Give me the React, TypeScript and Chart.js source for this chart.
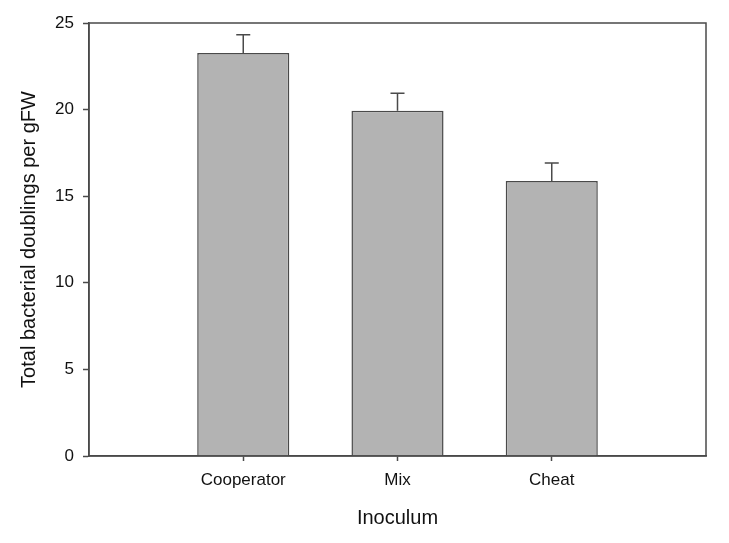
import React, { useEffect, useRef } from "react";
import { Chart, registerables } from "chart.js";

Chart.register(...registerables);

const categories = ["Cooperator", "Mix", "Cheat"];
const meanValues = [23.27, 19.93, 15.88];
const errorValues = [1.05, 1.02, 1.03];
const yTicks = [0, 5, 10, 15, 20, 25];

const FONT = "'Liberation Sans', Arial, Helvetica, sans-serif";
const AXIS_COLOR = "#4a4a4a";
const TEXT_COLOR = "#111";

const framePlugin = {
  id: "frame",
  afterDatasetsDraw(chart: any) {
    const { ctx, chartArea, scales } = chart;
    const xs = scales.x;
    const ys = scales.y;
    ctx.save();
    ctx.strokeStyle = "#4a4a4a";
    ctx.lineWidth = 1.5;
    categories.forEach((_, i) => {
      const x = xs.getPixelForValue(i + 1);
      const yTop = ys.getPixelForValue(meanValues[i]);
      const yErr = ys.getPixelForValue(meanValues[i] + errorValues[i]);
      ctx.beginPath();
      ctx.moveTo(x, yTop);
      ctx.lineTo(x, yErr);
      ctx.moveTo(x - 7, yErr);
      ctx.lineTo(x + 7, yErr);
      ctx.stroke();
    });
    ctx.strokeStyle = AXIS_COLOR;
    ctx.lineWidth = 1.5;
    ctx.strokeRect(
      chartArea.left,
      chartArea.top,
      chartArea.right - chartArea.left,
      chartArea.bottom - chartArea.top
    );
    ctx.restore();
  },
};

export default function App() {
  const ref = useRef<HTMLCanvasElement | null>(null);

  useEffect(() => {
    if (!ref.current) return;
    const chart = new Chart(ref.current, {
      type: "bar",
      data: {
        datasets: [
          {
            data: categories.map((_, i) => ({ x: i + 1, y: meanValues[i] })),
            backgroundColor: "#b3b3b3",
            borderColor: "#4a4a4a",
            borderWidth: 1.5,
            barPercentage: 0.597,
            categoryPercentage: 1,
          },
        ],
      },
      options: {
        responsive: false,
        animation: false,
        devicePixelRatio: 1,
        layout: { padding: { top: 23, right: 23, left: 0, bottom: 0 } },
        plugins: {
          legend: { display: false },
          tooltip: { enabled: false },
        },
        scales: {
          x: {
            type: "linear",
            min: 0,
            max: 4,
            offset: false,
            afterFit: (s: any) => {
              s.height = 87;
            },
            afterBuildTicks: (s: any) => {
              s.ticks = [0, 1, 2, 3, 4].map((v) => ({ value: v }));
            },
            ticks: {
              callback: (v: any) =>
                v >= 1 && v <= categories.length ? categories[v - 1] : "",
              font: { family: FONT, size: 17 },
              color: TEXT_COLOR,
              padding: 9,
              maxRotation: 0,
              autoSkip: false,
            },
            grid: {
              offset: false,
              drawOnChartArea: false,
              drawTicks: true,
              tickLength: 5,
              tickColor: (c: any) =>
                c.tick && c.tick.value >= 1 && c.tick.value <= categories.length
                  ? AXIS_COLOR
                  : "rgba(0,0,0,0)",
              tickWidth: 1.5,
            },
            border: { display: true, color: AXIS_COLOR, width: 1.5 },
            title: {
              display: true,
              text: "Inoculum",
              font: { family: FONT, size: 20 },
              color: TEXT_COLOR,
              padding: { top: 0, bottom: 13 },
            },
          },
          y: {
            min: 0,
            max: 25,
            afterFit: (s: any) => {
              s.width = 89;
            },
            afterBuildTicks: (s: any) => {
              s.ticks = yTicks.map((v) => ({ value: v }));
            },
            ticks: {
              font: { family: FONT, size: 17 },
              color: TEXT_COLOR,
              padding: 9,
            },
            grid: {
              drawOnChartArea: false,
              drawTicks: true,
              tickLength: 6,
              tickColor: AXIS_COLOR,
              tickWidth: 1.5,
            },
            border: { display: true, color: AXIS_COLOR, width: 1.5 },
            title: {
              display: true,
              text: "Total bacterial doublings per gFW",
              font: { family: FONT, size: 20 },
              color: TEXT_COLOR,
              padding: { top: 17, bottom: 0 },
            },
          },
        },
      },
      plugins: [framePlugin],
    } as any);
    return () => chart.destroy();
  }, []);

  return (
    <div
      style={{
        position: "fixed",
        left: 0,
        top: 0,
        width: 729,
        height: 543,
        background: "#fff",
      }}
    >
      <canvas ref={ref} width={729} height={543} />
    </div>
  );
}
